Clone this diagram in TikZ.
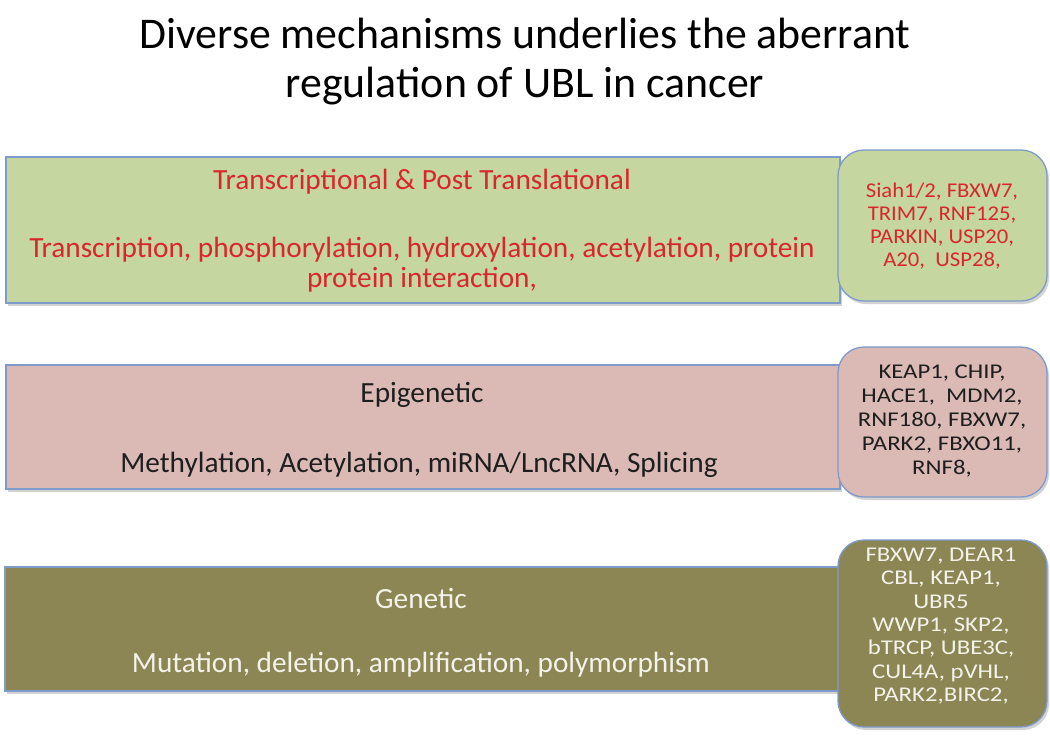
\documentclass[tikz,border=0pt]{standalone}
\usepackage{fontspec}
\setmainfont{Carlito}
\newfontfamily\genefontA[FakeStretch=1.08]{Carlito}
\newfontfamily\genefontB[FakeStretch=1.18]{Carlito}
\usetikzlibrary{shadows}
\definecolor{greenfill}{HTML}{C5D6A0}
\definecolor{pinkfill}{HTML}{DBBAB6}
\definecolor{olivefill}{HTML}{8B8654}
\definecolor{edgeblue}{HTML}{7E9BCB}
\definecolor{redtext}{HTML}{D9262C}
\definecolor{darktext}{HTML}{1E1E1E}
\definecolor{lighttext}{HTML}{F4F2EA}
\tikzset{
  mainbox/.style={draw=edgeblue, line width=1.3pt, rectangle, inner sep=0pt,
    drop shadow={opacity=0.35, shadow xshift=2pt, shadow yshift=-3pt}},
  genebox/.style={draw=edgeblue, line width=1.3pt, rectangle, rounded corners=26pt, inner sep=0pt,
    drop shadow={opacity=0.35, shadow xshift=2pt, shadow yshift=-3pt}},
  titletext/.style={font=\fontsize{43.8}{53}\selectfont, text=black},
  headtext/.style={font=\fontsize{29.3}{30}\selectfont},
  bodytext/.style={font=\fontsize{29.3}{30}\selectfont, align=center},
  genetextA/.style={font=\genefontA\fontsize{21}{23}\selectfont, align=center},
  genetextB/.style={font=\genefontB\fontsize{21}{23.8}\selectfont, align=center},
  genetextC/.style={font=\genefontB\fontsize{21}{23.4}\selectfont, align=center}
}
\begin{document}
\begin{tikzpicture}[x=1pt,y=-1pt]
\useasboundingbox (0,0) rectangle (1050,740);
\fill[white] (0,0) rectangle (1050,740);

% title
\node[titletext] (t1) at (525,33) {Diverse mechanisms underlies the aberrant};
\node[titletext] (t2) at (525,86) {regulation of UBL in cancer};

% left boxes
\node[mainbox, fill=greenfill, minimum width=834pt, minimum height=146pt] (b1) at (423,230) {};
\node[mainbox, fill=pinkfill, minimum width=834pt, minimum height=124pt] (b2) at (423,427) {};
\node[mainbox, fill=olivefill, minimum width=835pt, minimum height=124pt] (b3) at (422.5,629) {};

% right boxes
\node[genebox, fill=greenfill, minimum width=209pt, minimum height=151pt] (r1) at (942.5,225.5) {};
\node[genebox, fill=pinkfill, minimum width=209pt, minimum height=150pt] (r2) at (942.5,422) {};
\node[genebox, fill=olivefill, minimum width=209pt, minimum height=187pt] (r3) at (942.5,633.5) {};

% box texts
\node[headtext, text=redtext] (h1) at (422,182) {Transcriptional \& Post Translational};
\node[bodytext, text=redtext] (d1) at (422,265) {Transcription, phosphorylation, hydroxylation, acetylation, protein\\protein interaction,};

\node[headtext, text=darktext] (h2) at (422,395) {Epigenetic};
\node[bodytext, text=darktext] (d2) at (419,465) {Methylation, Acetylation, miRNA/LncRNA, Splicing};

\node[headtext, text=lighttext] (h3) at (421,598) {Genetic};
\node[bodytext, text=lighttext] (d3) at (421,665) {Mutation, deletion, amplification, polymorphism};

% gene lists
\node[genetextA, text=redtext] (g1) at (942,226) {Siah1/2, FBXW7,\\TRIM7, RNF125,\\PARKIN, USP20,\\A20,\ \ USP28,};
\node[genetextB, text=darktext] (g2) at (942,421) {KEAP1, CHIP,\\HACE1,\ \ MDM2,\\RNF180, FBXW7,\\PARK2, FBXO11,\\RNF8,};
\node[genetextC, text=lighttext] (g3) at (941,626) {FBXW7, DEAR1\\CBL, KEAP1,\\UBR5\\WWP1, SKP2,\\bTRCP, UBE3C,\\CUL4A, pVHL,\\PARK2,BIRC2,};
\end{tikzpicture}
\end{document}
